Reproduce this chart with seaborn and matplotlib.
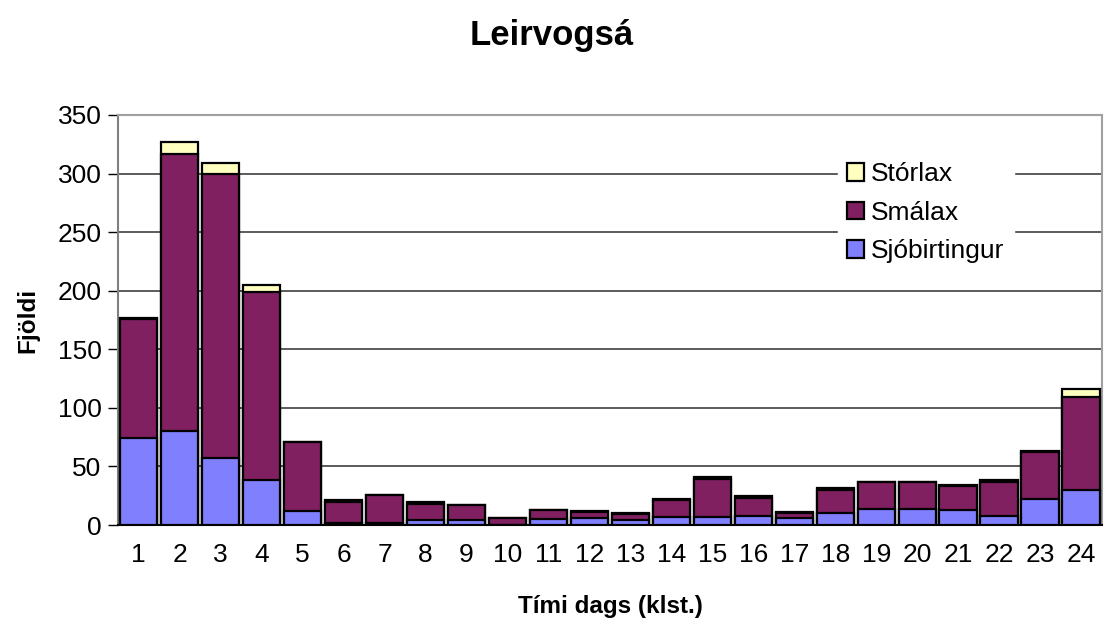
import numpy as np
import pandas as pd
import matplotlib
matplotlib.use("Agg")
import matplotlib.pyplot as plt
import seaborn as sns

hours = [str(h) for h in range(1, 25)]
sjobirtingur = [74, 80, 57, 38, 12, 2, 2, 4, 4, 0, 5, 6, 4, 7, 7, 8, 6, 10, 14, 14, 13, 8, 22, 30]
smalax = [102, 237, 243, 161, 59, 18, 24, 14, 13, 6, 8, 5, 5, 14, 32, 15, 4, 20, 23, 23, 20, 29, 40, 79]
storlax = [1, 10, 9, 6, 0, 1, 0, 2, 0, 0, 0, 1, 1, 1, 2, 2, 1, 2, 0, 0, 1, 1, 1, 7]

title = "Leirvogsá"
xlabel = "Tími dags (klst.)"
ylabel = "Fjöldi"

sns.set_theme(style="white")
plt.rcParams['font.family'] = ['Liberation Sans', 'DejaVu Sans']
plt.rcParams['text.color'] = 'black'
plt.rcParams['axes.labelcolor'] = 'black'
plt.rcParams['xtick.color'] = 'black'
plt.rcParams['ytick.color'] = 'black'

df = pd.DataFrame({"hour": hours, "sjo": sjobirtingur, "sma": smalax, "stor": storlax})
df["lvl2"] = df["sjo"] + df["sma"]
df["lvl3"] = df["lvl2"] + df["stor"]

fig = plt.figure(figsize=(11.04, 6.28), dpi=100)
ax = fig.add_axes([0.107, 0.164, 0.891, 0.653])

c_stor = "#FFFFC0"
c_sma = "#802060"
c_sjo = "#8080FF"
kw = dict(edgecolor="black", linewidth=1.6, width=0.92, saturation=1, order=hours)
sns.barplot(data=df, x="hour", y="lvl3", color=c_stor, ax=ax, label="Stórlax", zorder=3, **kw)
sns.barplot(data=df, x="hour", y="lvl2", color=c_sma, ax=ax, label="Smálax", zorder=3, **kw)
sns.barplot(data=df, x="hour", y="sjo", color=c_sjo, ax=ax, label="Sjóbirtingur", zorder=3, **kw)

ax.set_xlim(-0.5, 23.5)
ax.set_ylim(0, 350)
ax.set_yticks(np.arange(0, 351, 50))
ax.yaxis.grid(True, color="#404040", linewidth=1.2, zorder=0)
ax.set_axisbelow(True)

ax.set_xticks(np.arange(-0.5, 24, 1), minor=True)
ax.tick_params(axis="x", which="major", length=0, labelsize=19, pad=13)
ax.tick_params(axis="x", which="minor", length=7, width=1, color="black", direction="out")
ax.tick_params(axis="y", which="major", length=7, width=1, color="black", direction="out",
               labelsize=19, left=True, pad=5)

for s in ["top", "right"]:
    ax.spines[s].set_color("#A0A0A0")
    ax.spines[s].set_linewidth(1.5)
ax.spines["left"].set_color("#808080")
ax.spines["left"].set_linewidth(1.5)
ax.spines["bottom"].set_color("black")
ax.spines["bottom"].set_linewidth(1.5)

ax.set_xlabel(xlabel, fontsize=17.5, fontweight="bold", labelpad=20)
ax.set_ylabel(ylabel, fontsize=17.5, fontweight="bold", labelpad=13)
fig.suptitle(title, fontsize=25, fontweight="bold", y=0.97)

leg = ax.legend(loc="upper left", bbox_to_anchor=(838 / 1104, 1 - 153 / 628),
                bbox_transform=fig.transFigure, fontsize=19, borderaxespad=0,
                frameon=True, facecolor="white", edgecolor="white", framealpha=1,
                handlelength=0.65, handleheight=0.65, handletextpad=0.25,
                labelspacing=0.55, borderpad=0.35, fancybox=False)
leg.set_zorder(5)

fig.savefig("out.png", dpi=100, facecolor="white")
